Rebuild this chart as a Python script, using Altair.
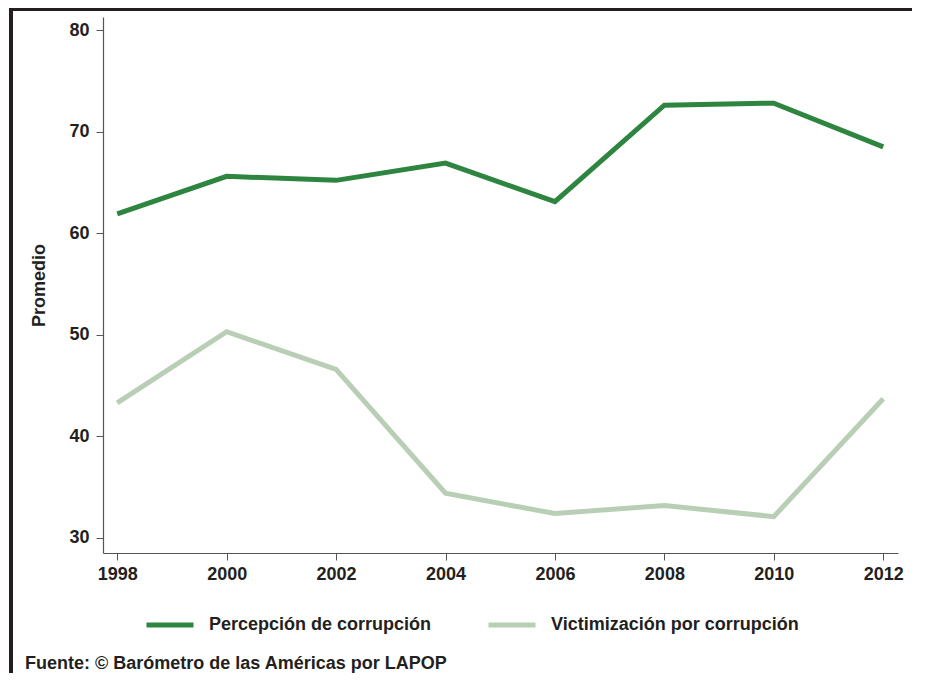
import altair as alt
import pandas as pd

years = [1998, 2000, 2002, 2004, 2006, 2008, 2010, 2012]
percepcion = [61.9, 65.6, 65.2, 66.9, 63.1, 72.6, 72.8, 68.5]
victimizacion = [43.3, 50.3, 46.6, 34.4, 32.4, 33.2, 32.1, 43.7]
series_names = ["Percepción de corrupción", "Victimización por corrupción"]
series_colors = ["#2e8540", "#b8cfb5"]
y_ticks = [30, 40, 50, 60, 70, 80]
source_text = "Fuente: © Barómetro de las Américas por LAPOP"

rows = []
for y, p, v in zip(years, percepcion, victimizacion):
    rows.append({"year": y, "serie": series_names[0], "valor": p})
    rows.append({"year": y, "serie": series_names[1], "valor": v})
df = pd.DataFrame(rows)

FONT = "Liberation Sans"
TXT = "#231f20"

lines = alt.Chart(df).mark_line(strokeWidth=5, strokeCap="butt", strokeJoin="miter").encode(
    x=alt.X("year:Q", scale=alt.Scale(domain=[1997.74, 2012.27], nice=False, zero=False),
            axis=alt.Axis(values=years, format="d", title=None, grid=False,
                          labelFont=FONT, labelFontSize=18, labelFontWeight="bold", labelColor=TXT,
                          labelPadding=5, tickSize=7, tickColor="#555", domainColor="#555",
                          tickWidth=1, domainWidth=1.2)),
    y=alt.Y("valor:Q", scale=alt.Scale(domain=[28.52, 81.28], nice=False, zero=False),
            axis=alt.Axis(values=y_ticks, title="Promedio", grid=False,
                          labelFont=FONT, labelFontSize=18, labelFontWeight="bold", labelColor=TXT,
                          labelPadding=7, tickSize=7, tickColor="#555", domainColor="#555",
                          tickWidth=1, domainWidth=1.2,
                          titleFont=FONT, titleFontSize=18, titleFontWeight="bold", titleColor=TXT,
                          titlePadding=20)),
    color=alt.Color("serie:N", scale=alt.Scale(domain=series_names, range=series_colors),
                    legend=alt.Legend(orient="none", legendX=41, legendY=582, direction="horizontal",
                                      title=None, symbolType="stroke", symbolSize=2209,
                                      symbolStrokeWidth=5, labelFont=FONT, labelFontSize=18,
                                      labelFontWeight="bold", labelColor=TXT, labelOffset=13,
                                      labelLimit=500, columnPadding=46, padding=0)),
)

frame_top = alt.Chart(df).mark_rule(color="#231f20", strokeWidth=2.5).encode(
    x=alt.value(-93), x2=alt.value(830), y=alt.value(-8)
)
frame_left = alt.Chart(df).mark_rule(color="#231f20", strokeWidth=2.5).encode(
    x=alt.value(-92), y=alt.value(-9), y2=alt.value(680)
)
source = alt.Chart(pd.DataFrame({"t": [source_text]})).mark_text(
    align="left", baseline="alphabetic", font=FONT, fontSize=18, fontWeight="bold", color=TXT
).encode(x=alt.value(-78), y=alt.value(652), text="t:N")

chart = alt.layer(lines, frame_top, frame_left, source).properties(
    width=795, height=536,
    autosize=alt.AutoSizeParams(type="none"),
    padding={"left": 95, "top": 9, "right": 14, "bottom": 120},
).configure_view(stroke=None)

chart.save("out.html", embed_options={"renderer": "svg", "actions": False})
